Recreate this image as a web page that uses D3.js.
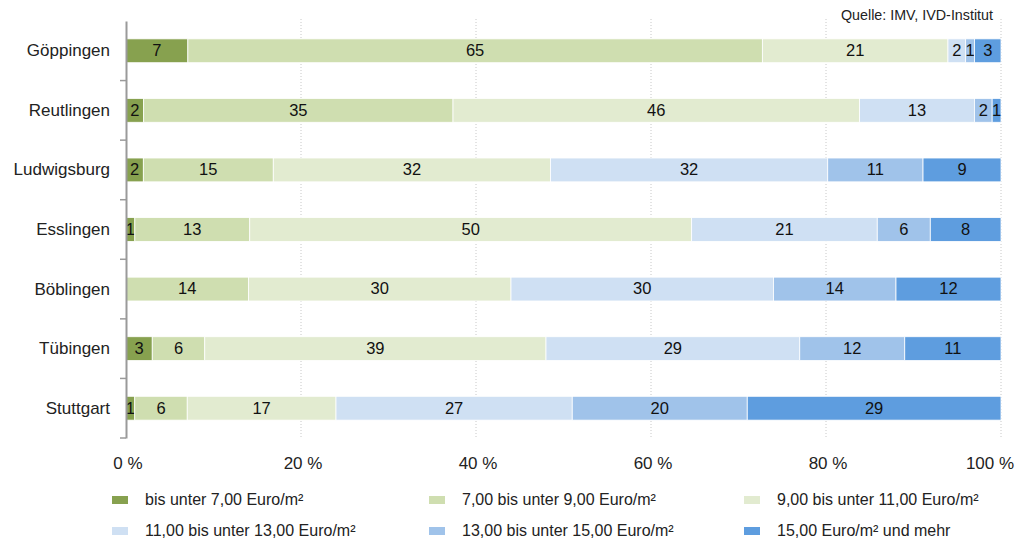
<!DOCTYPE html>
<html><head><meta charset="utf-8">
<script src="https://cdn.jsdelivr.net/npm/d3@7"></script>
<style>body{margin:0;background:#fff}svg{display:block;font-family:"Liberation Sans",Arial,sans-serif}</style>
</head><body><svg id="c" width="1027" height="545"></svg>
<script>
const categories = ["Göppingen","Reutlingen","Ludwigsburg","Esslingen","Böblingen","Tübingen","Stuttgart"];
const seriesNames = ["bis unter 7,00 Euro/m²","7,00 bis unter 9,00 Euro/m²","9,00 bis unter 11,00 Euro/m²","11,00 bis unter 13,00 Euro/m²","13,00 bis unter 15,00 Euro/m²","15,00 Euro/m² und mehr"];
const s1 = [7, 2, 2, 1, 0, 3, 1];
const s2 = [65, 35, 15, 13, 14, 6, 6];
const s3 = [21, 46, 32, 50, 30, 39, 17];
const s4 = [2, 13, 32, 21, 30, 29, 27];
const s5 = [1, 2, 11, 6, 14, 12, 20];
const s6 = [3, 1, 9, 8, 12, 11, 29];
const tickValues = [0, 20, 40, 60, 80, 100];
const colors = ["#87a14f","#cfdeb0","#e2ebd0","#cfe0f3","#a0c3ea","#5e9ddf"];
const source = "Quelle: IMV, IVD-Institut";

const series = [s1,s2,s3,s4,s5,s6];
const svg = d3.select("#c");
const x = d3.scaleLinear().domain([0,100]).range([126,1001]);
const y = d3.scaleBand().domain(categories).range([21,438]).paddingInner(0.6).paddingOuter(0.3);
const yb = d3.scaleBand().domain(categories).range([21,438]);

// gridlines
svg.append("g").selectAll("line").data(tickValues.filter(d=>d>0)).join("line")
  .attr("x1",d=>x(d)).attr("x2",d=>x(d)).attr("y1",19).attr("y2",438)
  .attr("stroke","#c8c8c8").attr("stroke-width",1).attr("stroke-dasharray","1,2");

// bars
categories.forEach((c,i)=>{
  const vals = series.map(s=>s[i]);
  const tot = d3.sum(vals);
  let acc = 0;
  const g = svg.append("g");
  vals.forEach((v,k)=>{
    if(v<=0){return;}
    const x0 = x(acc/tot*100), x1 = x((acc+v)/tot*100);
    acc += v;
    g.append("rect").attr("x",x0).attr("y",y(c)).attr("width",x1-x0).attr("height",y.bandwidth())
      .attr("fill",colors[k]).attr("stroke","#fff").attr("stroke-width",0.8);
    g.append("text").attr("x",(x0+x1)/2).attr("y",y(c)+y.bandwidth()/2+1)
      .attr("text-anchor","middle").attr("dominant-baseline","middle")
      .attr("font-size",16.5).attr("fill","#111").text(v);
  });
});

// y axis
const ya = d3.axisLeft(yb).tickSize(0).tickPadding(16);
const yg = svg.append("g").attr("transform","translate(126,0)").call(ya);
yg.select(".domain").attr("stroke","#9a9a9a").attr("stroke-width",2);
yg.selectAll("text").attr("font-size",17).attr("fill","#222").attr("font-family","Liberation Sans, Arial, sans-serif");
// band boundary ticks
const bounds = categories.map(c=>yb(c)).concat([438]).slice(1);
svg.append("g").selectAll("line").data(bounds).join("line")
  .attr("x1",120).attr("x2",126).attr("y1",d=>d).attr("y2",d=>d)
  .attr("stroke","#9a9a9a").attr("stroke-width",1.5);

// x tick labels
svg.append("g").selectAll("text").data(tickValues).join("text")
  .attr("x",d=>d===100 ? x(d)-11 : x(d)+2).attr("y",469).attr("text-anchor","middle")
  .attr("font-size",17).attr("fill","#222").text(d=>d+" %");

// source
svg.append("text").attr("x",993).attr("y",20).attr("text-anchor","end")
  .attr("font-size",14.3).attr("fill","#222").text(source);

// legend
const lx = [112,429,744], ly = [500,531];
seriesNames.forEach((n,k)=>{
  const col = k%3, row = Math.floor(k/3);
  svg.append("rect").attr("x",lx[col]).attr("y",ly[row]-4).attr("width",16).attr("height",8).attr("fill",colors[k]);
  svg.append("text").attr("x",lx[col]+33).attr("y",ly[row]+5).attr("font-size",16).attr("fill","#222").text(n);
});
</script></body></html>
